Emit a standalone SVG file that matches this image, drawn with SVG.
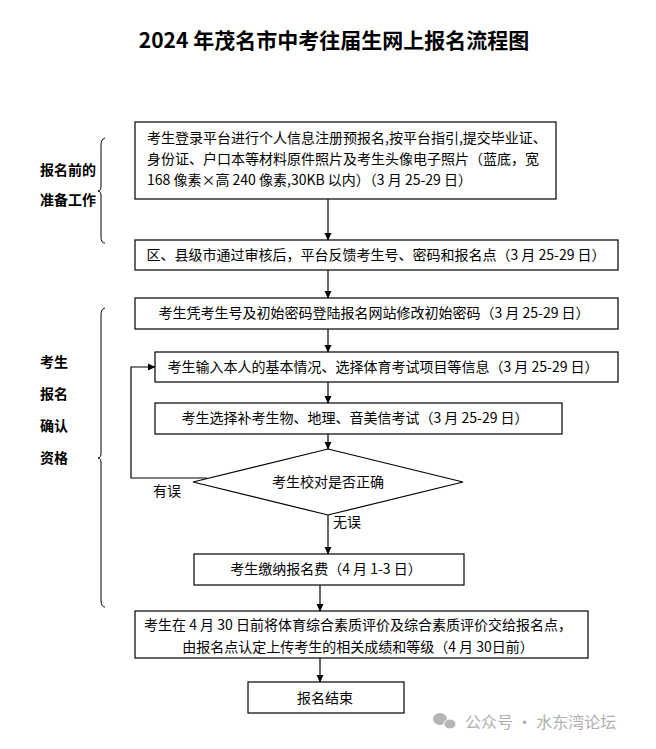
<svg xmlns="http://www.w3.org/2000/svg" width="656" height="749" viewBox="0 0 656 749">
<defs>
<marker id="ah" markerWidth="8" markerHeight="8" refX="7" refY="4" orient="auto" markerUnits="userSpaceOnUse">
<path d="M0,0.5 L7.5,4 L0,7.5 Z" fill="#000"/>
</marker>
</defs>
<style>
text{font-family:"Noto Sans CJK SC","DejaVu Sans",sans-serif;fill:#000;}
.t{font-size:14px;}
.c{text-anchor:middle;}
.b{font-weight:bold;}
.box{fill:#fff;stroke:#000;stroke-width:1.2;}
.ln{fill:none;stroke:#000;stroke-width:1.2;}
.br{fill:none;stroke:#000;stroke-width:1;}
</style>
<rect width="656" height="749" fill="#fff"/>
<text x="334" y="48" class="c b" style="font-size:21px">2024 年茂名市中考往届生网上报名流程图</text>

<g id="group-labels">
<path class="br" d="M105,138 Q101,139 101,145 L101,186 Q101,191 98,191 Q101,191 101,196 L101,237 Q101,243 105,243"/>
<path class="br" d="M105,308 Q101,309 101,315 L101,453 Q101,458 98,458 Q101,458 101,463 L101,600 Q101,607 105,607"/>
<text x="40" y="175" class="t b">报名前的</text>
<text x="40" y="205" class="t b">准备工作</text>
<text x="40" y="367" class="t b">考生</text>
<text x="40" y="399" class="t b">报名</text>
<text x="40" y="431" class="t b">确认</text>
<text x="40" y="463" class="t b">资格</text>
</g>

<g id="connectors">
<line class="ln" x1="328" y1="199" x2="328" y2="240" marker-end="url(#ah)"/>
<line class="ln" x1="328" y1="270" x2="328" y2="298" marker-end="url(#ah)"/>
<line class="ln" x1="328" y1="329" x2="328" y2="352" marker-end="url(#ah)"/>
<line class="ln" x1="328" y1="382" x2="328" y2="403" marker-end="url(#ah)"/>
<line class="ln" x1="328" y1="434" x2="328" y2="449" marker-end="url(#ah)"/>
<line class="ln" x1="328" y1="515" x2="328" y2="554" marker-end="url(#ah)"/>
<line class="ln" x1="320" y1="585" x2="320" y2="611" marker-end="url(#ah)"/>
<line class="ln" x1="320" y1="658" x2="320" y2="682" marker-end="url(#ah)"/>
<polyline class="ln" points="207,478 131,478 131,367 155,367" marker-end="url(#ah)"/>
<text x="153" y="496" class="t">有误</text>
<text x="333" y="527" class="t">无误</text>
</g>

<g id="n1">
<rect class="box" x="135" y="122" width="421" height="77"/>
<text x="147" y="143" class="t">考生登录平台进行个人信息注册预报名,按平台指引,提交毕业证、</text>
<text x="147" y="164" class="t">身份证、户口本等材料原件照片及考生头像电子照片（蓝底，宽</text>
<text x="147" y="185" class="t">168 像素×高 240 像素,30KB 以内）（3 月 25-29 日）</text>
</g>
<g id="n2">
<rect class="box" x="135" y="240" width="483" height="30"/>
<text x="376" y="260" class="t c">区、县级市通过审核后，平台反馈考生号、密码和报名点（3 月 25-29 日）</text>
</g>
<g id="n3">
<rect class="box" x="135" y="298" width="483" height="31"/>
<text x="374" y="318" class="t c">考生凭考生号及初始密码登陆报名网站修改初始密码（3 月 25-29 日）</text>
</g>
<g id="n4">
<rect class="box" x="155" y="352" width="463" height="30"/>
<text x="383" y="372" class="t c">考生输入本人的基本情况、选择体育考试项目等信息（3 月 25-29 日）</text>
</g>
<g id="n5">
<rect class="box" x="155" y="403" width="407" height="31"/>
<text x="355" y="423" class="t c">考生选择补考生物、地理、音美信考试（3 月 25-29 日）</text>
</g>
<g id="n6">
<polygon class="box" points="328,449 463,482 328,515 193,482"/>
<text x="328" y="487" class="t c">考生校对是否正确</text>
</g>
<g id="n7">
<rect class="box" x="194" y="554" width="270" height="31"/>
<text x="326" y="574" class="t c">考生缴纳报名费（4 月 1-3 日）</text>
</g>
<g id="n8">
<rect class="box" x="135" y="611" width="453" height="47"/>
<text x="358" y="630" class="t c">考生在 4 月 30 日前将体育综合素质评价及综合素质评价交给报名点，</text>
<text x="358" y="652" class="t c">由报名点认定上传考生的相关成绩和等级（4 月 30日前）</text>
</g>
<g id="n9">
<rect class="box" x="248" y="682" width="156" height="31"/>
<text x="325" y="703" class="t c">报名结束</text>
</g>

<g id="watermark">
<ellipse cx="440" cy="719" rx="7" ry="6" fill="#b5b5b5"/>
<ellipse cx="450" cy="724" rx="6" ry="5" fill="#b5b5b5" stroke="#fff" stroke-width="1"/>
<text x="465" y="728" style="font-size:16px;fill:#b0b0b0">公众号 · 水东湾论坛</text>
</g>
</svg>
